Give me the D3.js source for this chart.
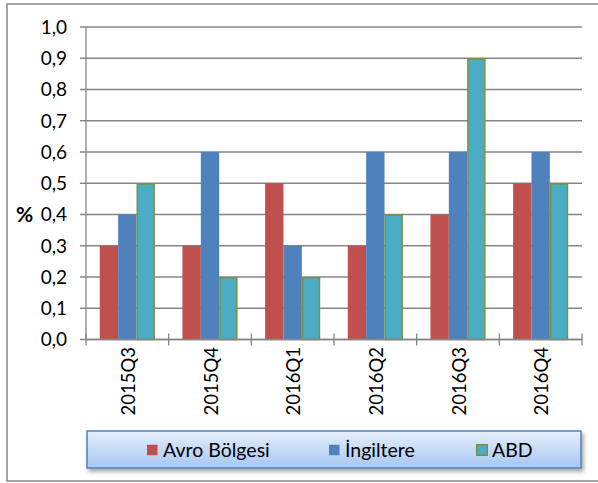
<!DOCTYPE html>
<html><head><meta charset="utf-8">
<script src="https://cdn.jsdelivr.net/npm/d3@7"></script>
<style>body{margin:0;background:#fff}svg{display:block}</style>
</head><body>
<script>
const categories = ["2015Q3","2015Q4","2016Q1","2016Q2","2016Q3","2016Q4"];
const seriesNames = ["Avro Bölgesi","İngiltere","ABD"];
const avro = [0.3,0.3,0.5,0.3,0.4,0.5];
const ingiltere = [0.4,0.6,0.3,0.6,0.6,0.6];
const abd = [0.5,0.2,0.2,0.4,0.9,0.5];
const yTicks = [0,0.1,0.2,0.3,0.4,0.5,0.6,0.7,0.8,0.9,1.0];
const yLabel = "%";

const seriesVals = [avro, ingiltere, abd];
const fills = ["#C0504D","#4F81BD","#4BACC6"];
const strokes = ["#C0504D","#4F81BD","#77933C"];
const W = 598, H = 483;
const font = "Lato, 'Open Sans', sans-serif";

const svg = d3.select("body").append("svg").attr("width",W).attr("height",H);
const defs = svg.append("defs");
const grad = defs.append("linearGradient").attr("id","lg").attr("x1",0).attr("y1",0).attr("x2",0).attr("y2",1);
grad.append("stop").attr("offset","0%").attr("stop-color","#e6effc");
grad.append("stop").attr("offset","100%").attr("stop-color","#a6c6f2");
const f = defs.append("filter").attr("id","sh").attr("x","-10%").attr("y","-30%").attr("width","120%").attr("height","180%");
f.append("feDropShadow").attr("dx",2).attr("dy",3).attr("stdDeviation",2).attr("flood-color","#000").attr("flood-opacity",0.35);

// outer frame
svg.append("rect").attr("x",7).attr("y",4).attr("width",W).attr("height",477)
  .attr("fill","#fff").attr("stroke","#868686").attr("stroke-width",1.5);

const x0 = 86, x1 = 582, yTop = 27, yBot = 339.5;
const x = d3.scaleBand().domain(categories).range([x0,x1]).paddingInner(0).paddingOuter(0);
const y = d3.scaleLinear().domain([0,1]).range([yBot,yTop]);
const inner = d3.scaleBand().domain(d3.range(3)).range([0,x.bandwidth()]).paddingInner(0).paddingOuter(0.75);

// gridlines
svg.append("g").selectAll("line").data(yTicks).join("line")
  .attr("x1",x0-6).attr("x2",x1).attr("y1",d=>y(d)).attr("y2",d=>y(d))
  .attr("stroke","#868686").attr("stroke-width",1.3);

// y axis line
svg.append("line").attr("x1",x0).attr("x2",x0).attr("y1",yTop).attr("y2",yBot)
  .attr("stroke","#868686").attr("stroke-width",1.3);

// y labels
svg.append("g").selectAll("text").data(yTicks).join("text")
  .attr("x",67).attr("y",d=>y(d)).attr("dy","0.36em").attr("text-anchor","end")
  .attr("font-family",font).attr("font-size",19).attr("fill","#000")
  .text(d=>d3.format(".1f")(d).replace(".",","));

svg.append("text").attr("x",16).attr("y",y(0.4)).attr("dy","0.36em")
  .attr("font-family",font).attr("font-size",21).attr("font-weight","bold").text(yLabel);

// bars
const groups = svg.append("g").selectAll("g").data(categories).join("g")
  .attr("transform",d=>`translate(${x(d)},0)`);
groups.selectAll("rect").data((c,i)=>seriesVals.map((s,k)=>({k,v:s[i]}))).join("rect")
  .attr("x",d=>inner(d.k)+ (d.k===2?0.75:0)).attr("width",d=>inner.bandwidth()-(d.k===2?1.5:0))
  .attr("y",d=>y(d.v)+(d.k===2?0.75:0)).attr("height",d=>yBot-y(d.v)-(d.k===2?0.75:0))
  .attr("fill",d=>fills[d.k])
  .attr("stroke",d=>d.k===2?strokes[2]:"none").attr("stroke-width",1.5);

// x axis line and ticks
svg.append("line").attr("x1",x0).attr("x2",x1).attr("y1",yBot).attr("y2",yBot)
  .attr("stroke","#868686").attr("stroke-width",1.3);
const bounds = categories.map(c=>x(c)).concat([x1]);
svg.append("g").selectAll("line").data(bounds).join("line")
  .attr("x1",d=>d).attr("x2",d=>d).attr("y1",yBot-6).attr("y2",yBot+6)
  .attr("stroke","#868686").attr("stroke-width",1.3);

// category labels
svg.append("g").selectAll("text").data(categories).join("text")
  .attr("transform",d=>`translate(${x(d)+x.bandwidth()/2+1},347) rotate(-90)`)
  .attr("text-anchor","end").attr("dy","0.36em")
  .attr("font-family",font).attr("font-size",18.5).attr("fill","#000").text(d=>d);

// legend
const lg = svg.append("g");
lg.append("rect").attr("x",87).attr("y",431).attr("width",494).attr("height",37)
  .attr("fill","url(#lg)").attr("stroke","#4F81BD").attr("stroke-width",1.5).attr("filter","url(#sh)");
const legX = [147,329,476];
const items = lg.selectAll("g").data(seriesNames).join("g")
  .attr("transform",(d,i)=>`translate(${legX[i]},450)`);
items.append("rect").attr("x",(d,i)=>i===2?0.75:0).attr("y",-5.25)
  .attr("width",10.5).attr("height",10.5)
  .attr("fill",(d,i)=>fills[i]).attr("stroke",(d,i)=>i===2?strokes[2]:"none").attr("stroke-width",1.5);
items.append("text").attr("x",16).attr("y",0).attr("dy","0.36em")
  .attr("font-family",font).attr("font-size",19.5).attr("fill","#000").text(d=>d);
</script>
</body></html>
